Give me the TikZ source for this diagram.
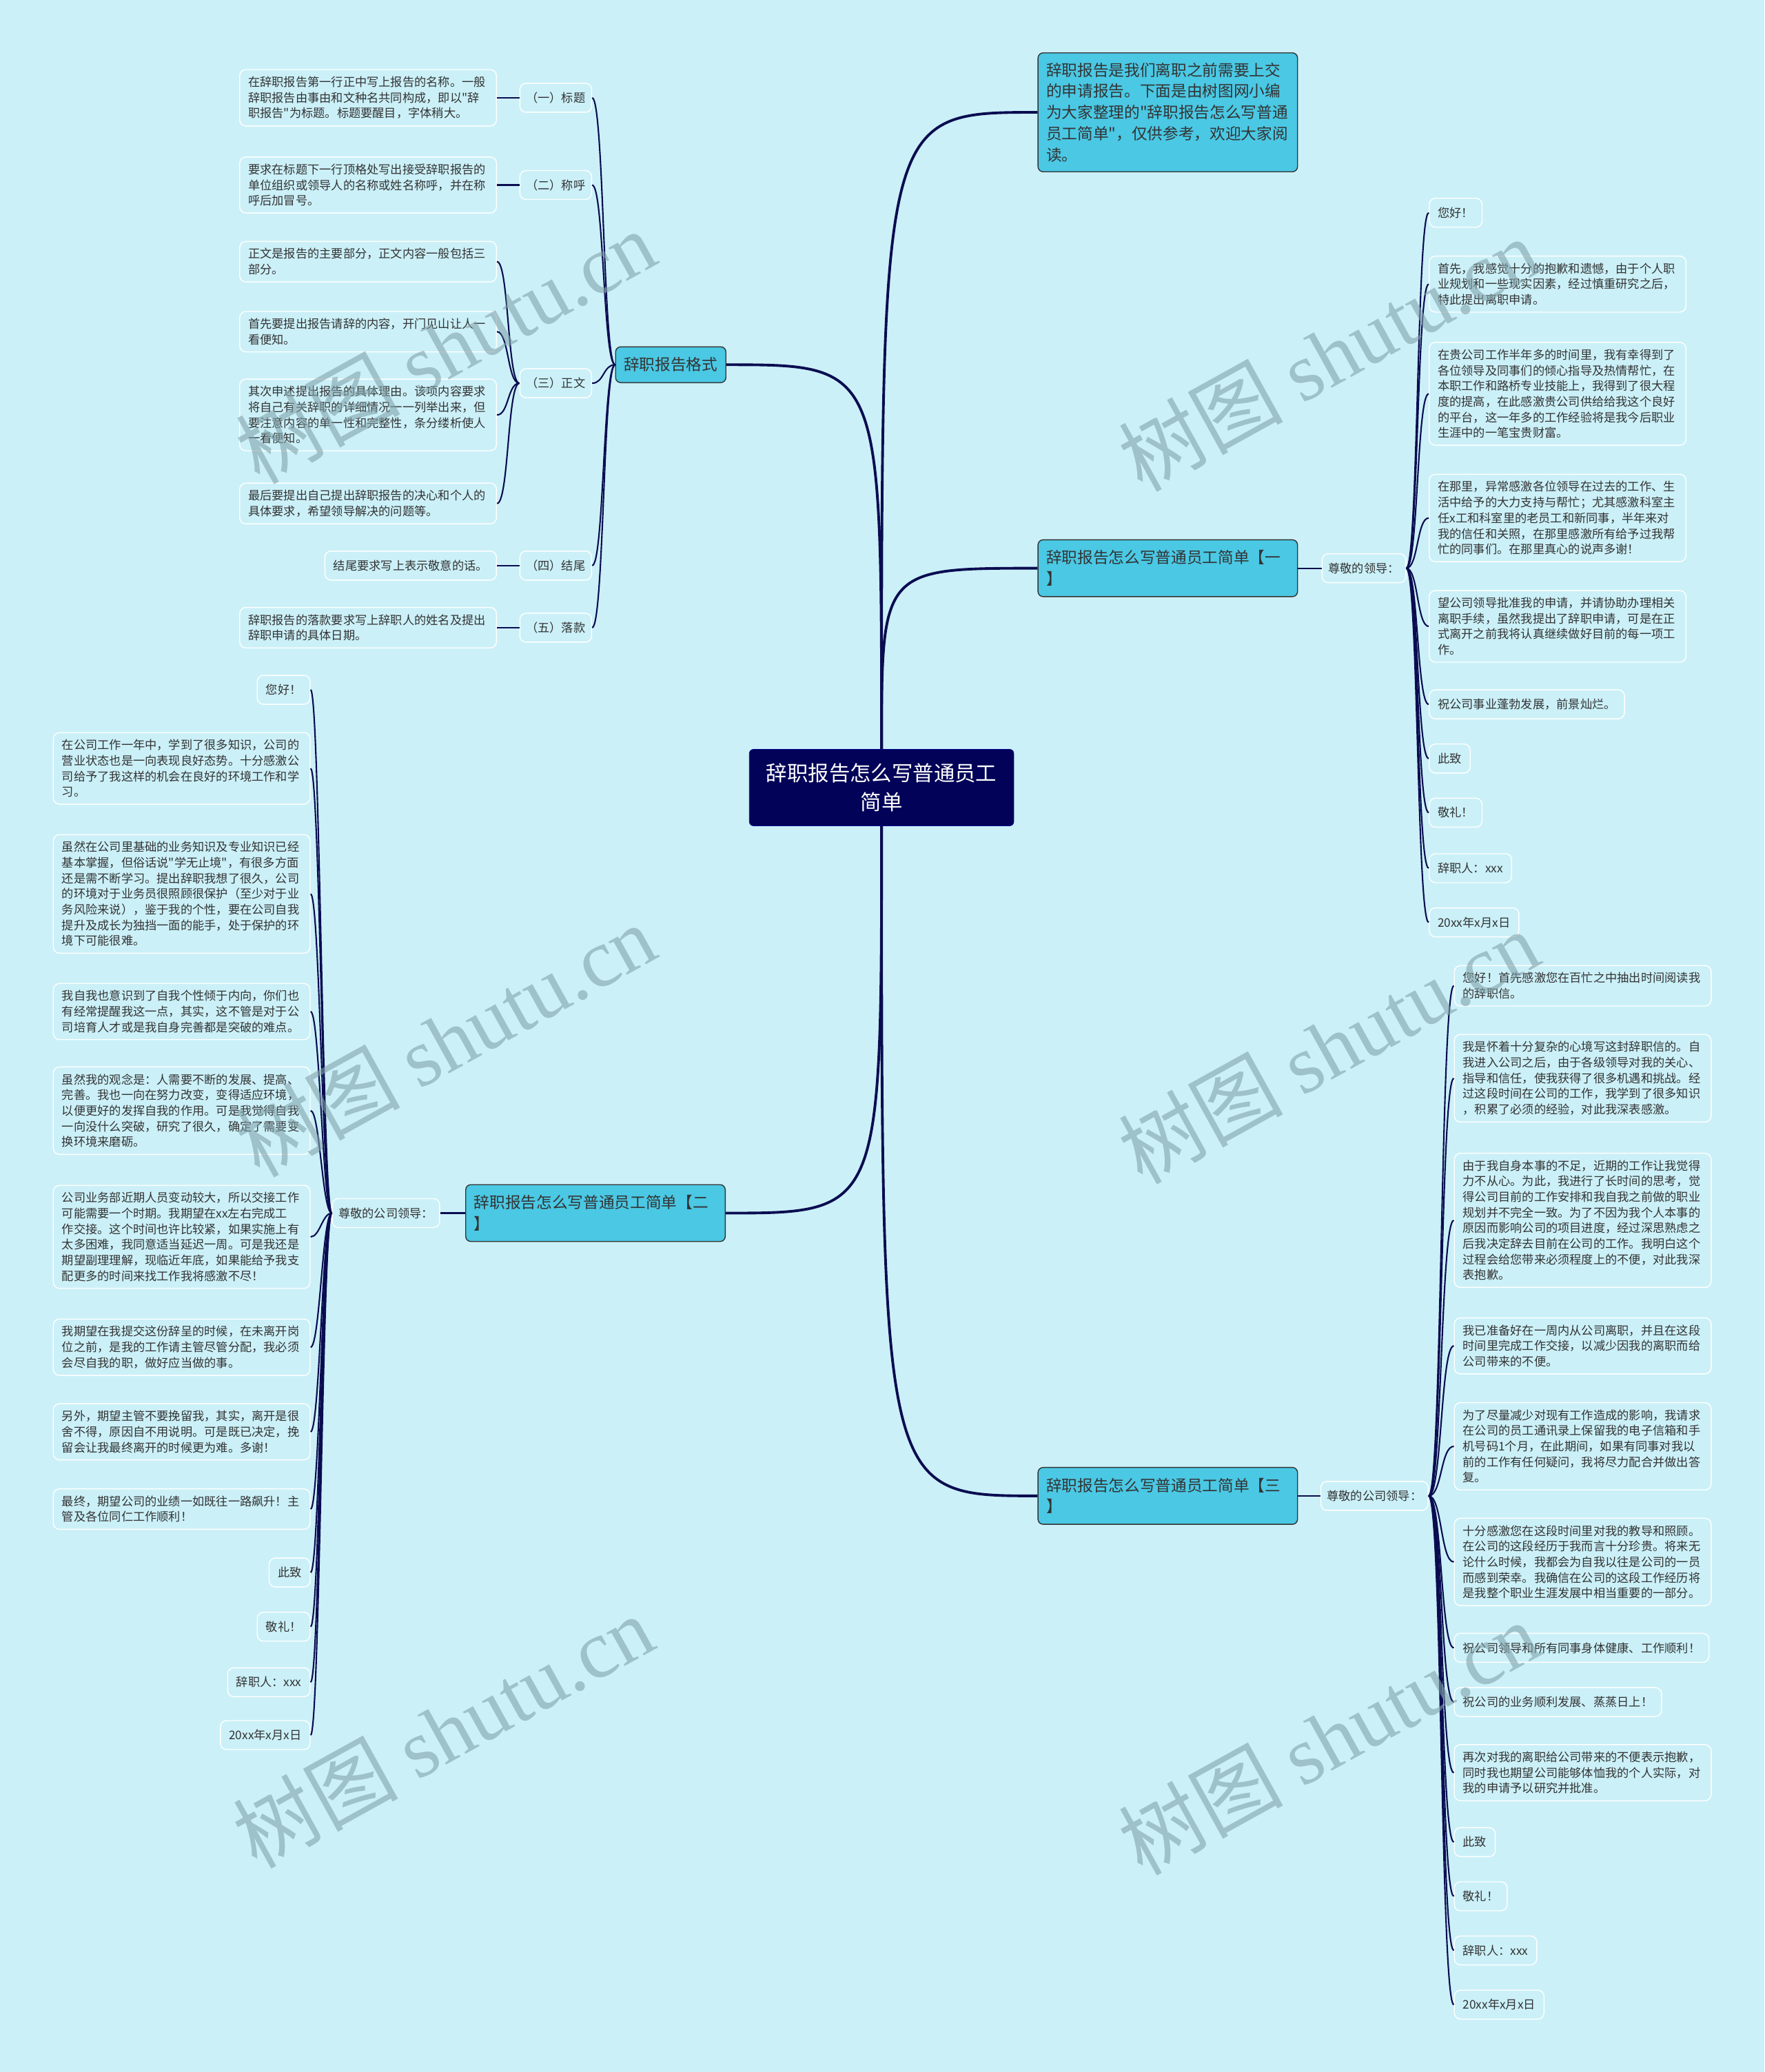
\documentclass[tikz,border=0pt]{standalone}
\usepackage{fontspec}
\setmainfont{Noto Sans CJK SC}[Ligatures=TeXOff]
\newfontfamily\wmfont{Liberation Serif}
\usetikzlibrary{positioning}
\definecolor{bgcol}{RGB}{203,240,248}
\definecolor{navy}{RGB}{2,2,88}
\definecolor{linecol}{RGB}{10,12,80}
\definecolor{cyanbox}{RGB}{74,200,228}
\definecolor{txtcol}{RGB}{51,51,51}
\definecolor{wmcol}{RGB}{130,162,170}

\begin{document}
\begin{tikzpicture}[
  x=0.03835cm, y=-0.03835cm,
  root/.style={rectangle, rounded corners=0.12cm, draw=blue!55!black, fill=navy, text=white, minimum width=7.67cm, minimum height=2.22cm, align=center, font=\fontsize{17.3pt}{24pt}\selectfont},
  branch/.style={rectangle, rounded corners=0.15cm, draw=black!80, line width=0.8pt, fill=cyanbox, text=black!80, text width=7.05cm, inner xsep=0.24cm, minimum height=1.65cm, align=left, font=\fontsize{12.9pt}{17.5pt}\selectfont},
  leaf/.style={rectangle, rounded corners=0.18cm, draw=white, line width=0.8pt, text=txtcol, inner xsep=0.25cm, inner ysep=0.2cm, minimum height=0.84cm, align=left, font=\fontsize{9.8pt}{12.9pt}\selectfont},
  leafpara/.style={leaf, text width=6.95cm},
  sublbl/.style={leaf, inner xsep=0.18cm},
  trunk/.style={draw=linecol, line width=2.2pt},
  twig/.style={draw=linecol, line width=1.2pt},
  wm/.style={text=wmcol, text opacity=0.6, rotate=29, font=\fontsize{68pt}{70pt}\selectfont}
  ]
  \fill[bgcol] (0,0) rectangle (1335,1568);
  \useasboundingbox (0,0) rectangle (1335,1568);

  % centre and main branches
  \node[root] (root) at (667,596) {辞职报告怎么写普通员工\\简单};
  \node[branch, anchor=west, minimum height=3.45cm] (intro) at (785,85) {辞职报告是我们离职之前需要上交\\的申请报告。下面是由树图网小编\\为大家整理的"辞职报告怎么写普通\\员工简单"，仅供参考，欢迎大家阅\\读。};
  \node[branch, text width=, minimum width=3.18cm, minimum height=1.04cm, align=center] (fmt) at (507.5,276) {辞职报告格式};
  \node[branch, anchor=west] (b1) at (785,430) {辞职报告怎么写普通员工简单【一\\】};
  \node[branch, anchor=west] (b2) at (352,918) {辞职报告怎么写普通员工简单【二\\】};
  \node[branch, anchor=west] (b3) at (785,1132) {辞职报告怎么写普通员工简单【三\\】};

  % format section
  \node[sublbl, anchor=east] (s1) at (448,74) {（一）标题};
  \node[sublbl, anchor=east] (s2) at (448,140) {（二）称呼};
  \node[sublbl, anchor=east] (s3) at (448,290) {（三）正文};
  \node[sublbl, anchor=east] (s4) at (448,428) {（四）结尾};
  \node[sublbl, anchor=east] (s5) at (448,475) {（五）落款};
  \node[leafpara, anchor=east] (f1) at (376,74) {在辞职报告第一行正中写上报告的名称。一般\\辞职报告由事由和文种名共同构成，即以"辞\\职报告"为标题。标题要醒目，字体稍大。};
  \node[leafpara, anchor=east] (f2) at (376,140) {要求在标题下一行顶格处写出接受辞职报告的\\单位组织或领导人的名称或姓名称呼，并在称\\呼后加冒号。};
  \node[leafpara, anchor=east] (f3) at (376,198) {正文是报告的主要部分，正文内容一般包括三\\部分。};
  \node[leafpara, anchor=east] (f4) at (376,251) {首先要提出报告请辞的内容，开门见山让人一\\看便知。};
  \node[leafpara, anchor=east] (f5) at (376,314) {其次申述提出报告的具体理由。该项内容要求\\将自己有关辞职的详细情况一一列举出来，但\\要注意内容的单一性和完整性，条分缕析使人\\一看便知。};
  \node[leafpara, anchor=east] (f6) at (376,381) {最后要提出自己提出辞职报告的决心和个人的\\具体要求，希望领导解决的问题等。};
  \node[leaf, anchor=east] (f7) at (376,428) {结尾要求写上表示敬意的话。};
  \node[leafpara, anchor=east] (f8) at (376,475) {辞职报告的落款要求写上辞职人的姓名及提出\\辞职申请的具体日期。};

  % branch one
  \node[sublbl, anchor=west] (g1) at (1000,430) {尊敬的领导：};
  \node[leaf, anchor=west] (a1) at (1081,161) {您好！};
  \node[leafpara, anchor=west] (a2) at (1081,215) {首先，我感觉十分的抱歉和遗憾，由于个人职\\业规划和一些现实因素，经过慎重研究之后，\\特此提出离职申请。};
  \node[leafpara, anchor=west] (a3) at (1081,298) {在贵公司工作半年多的时间里，我有幸得到了\\各位领导及同事们的倾心指导及热情帮忙，在\\本职工作和路桥专业技能上，我得到了很大程\\度的提高，在此感激贵公司供给给我这个良好\\的平台，这一年多的工作经验将是我今后职业\\生涯中的一笔宝贵财富。};
  \node[leafpara, anchor=west] (a4) at (1081,392) {在那里，异常感激各位领导在过去的工作、生\\活中给予的大力支持与帮忙；尤其感激科室主\\任x工和科室里的老员工和新同事，半年来对\\我的信任和关照，在那里感激所有给予过我帮\\忙的同事们。在那里真心的说声多谢！};
  \node[leafpara, anchor=west] (a5) at (1081,474) {望公司领导批准我的申请，并请协助办理相关\\离职手续，虽然我提出了辞职申请，可是在正\\式离开之前我将认真继续做好目前的每一项工\\作。};
  \node[leaf, anchor=west] (a6) at (1081,533) {祝公司事业蓬勃发展，前景灿烂。};
  \node[leaf, anchor=west] (a7) at (1081,574) {此致};
  \node[leaf, anchor=west] (a8) at (1081,615) {敬礼！};
  \node[leaf, anchor=west] (a9) at (1081,657) {辞职人：xxx};
  \node[leaf, anchor=west] (a10) at (1081,698) {20xx年x月x日};

  % branch two
  \node[sublbl, anchor=east] (g2) at (333,918) {尊敬的公司领导：};
  \node[leaf, anchor=east] (c1) at (235,522) {您好！};
  \node[leafpara, anchor=east] (c2) at (235,581.5) {在公司工作一年中，学到了很多知识，公司的\\营业状态也是一向表现良好态势。十分感激公\\司给予了我这样的机会在良好的环境工作和学\\习。};
  \node[leafpara, anchor=east] (c3) at (235,676.5) {虽然在公司里基础的业务知识及专业知识已经\\基本掌握，但俗话说"学无止境"，有很多方面\\还是需不断学习。提出辞职我想了很久，公司\\的环境对于业务员很照顾很保护（至少对于业\\务风险来说），鉴于我的个性，要在公司自我\\提升及成长为独挡一面的能手，处于保护的环\\境下可能很难。};
  \node[leafpara, anchor=east] (c4) at (235,765.5) {我自我也意识到了自我个性倾于内向，你们也\\有经常提醒我这一点，其实，这不管是对于公\\司培育人才或是我自身完善都是突破的难点。};
  \node[leafpara, anchor=east] (c5) at (235,840.5) {虽然我的观念是：人需要不断的发展、提高、\\完善。我也一向在努力改变，变得适应环境，\\以便更好的发挥自我的作用。可是我觉得自我\\一向没什么突破，研究了很久，确定了需要变\\换环境来磨砺。};
  \node[leafpara, anchor=east] (c6) at (235,936) {公司业务部近期人员变动较大，所以交接工作\\可能需要一个时期。我期望在xx左右完成工\\作交接。这个时间也许比较紧，如果实施上有\\太多困难，我同意适当延迟一周。可是我还是\\期望副理理解，现临近年底，如果能给予我支\\配更多的时间来找工作我将感激不尽！};
  \node[leafpara, anchor=east] (c7) at (235,1019.5) {我期望在我提交这份辞呈的时候，在未离开岗\\位之前，是我的工作请主管尽管分配，我必须\\会尽自我的职，做好应当做的事。};
  \node[leafpara, anchor=east] (c8) at (235,1083.5) {另外，期望主管不要挽留我，其实，离开是很\\舍不得，原因自不用说明。可是既已决定，挽\\留会让我最终离开的时候更为难。多谢！};
  \node[leafpara, anchor=east] (c9) at (235,1142) {最终，期望公司的业绩一如既往一路飙升！主\\管及各位同仁工作顺利！};
  \node[leaf, anchor=east] (c10) at (235,1190) {此致};
  \node[leaf, anchor=east] (c11) at (235,1231) {敬礼！};
  \node[leaf, anchor=east] (c12) at (235,1273) {辞职人：xxx};
  \node[leaf, anchor=east] (c13) at (235,1313) {20xx年x月x日};

  % branch three
  \node[sublbl, anchor=west] (g3) at (999,1132) {尊敬的公司领导：};
  \node[leafpara, anchor=west] (d1) at (1100,746) {您好！首先感激您在百忙之中抽出时间阅读我\\的辞职信。};
  \node[leafpara, anchor=west] (d2) at (1100,816) {我是怀着十分复杂的心境写这封辞职信的。自\\我进入公司之后，由于各级领导对我的关心、\\指导和信任，使我获得了很多机遇和挑战。经\\过这段时间在公司的工作，我学到了很多知识\\，积累了必须的经验，对此我深表感激。};
  \node[leafpara, anchor=west] (d3) at (1100,923.5) {由于我自身本事的不足，近期的工作让我觉得\\力不从心。为此，我进行了长时间的思考，觉\\得公司目前的工作安排和我自我之前做的职业\\规划并不完全一致。为了不因为我个人本事的\\原因而影响公司的项目进度，经过深思熟虑之\\后我决定辞去目前在公司的工作。我明白这个\\过程会给您带来必须程度上的不便，对此我深\\表抱歉。};
  \node[leafpara, anchor=west] (d4) at (1100,1018.5) {我已准备好在一周内从公司离职，并且在这段\\时间里完成工作交接，以减少因我的离职而给\\公司带来的不便。};
  \node[leafpara, anchor=west] (d5) at (1100,1094.5) {为了尽量减少对现有工作造成的影响，我请求\\在公司的员工通讯录上保留我的电子信箱和手\\机号码1个月，在此期间，如果有同事对我以\\前的工作有任何疑问，我将尽力配合并做出答\\复。};
  \node[leafpara, anchor=west] (d6) at (1100,1182) {十分感激您在这段时间里对我的教导和照顾。\\在公司的这段经历于我而言十分珍贵。将来无\\论什么时候，我都会为自我以往是公司的一员\\而感到荣幸。我确信在公司的这段工作经历将\\是我整个职业生涯发展中相当重要的一部分。};
  \node[leaf, anchor=west] (d7) at (1100,1247) {祝公司领导和所有同事身体健康、工作顺利！};
  \node[leaf, anchor=west] (d8) at (1100,1288) {祝公司的业务顺利发展、蒸蒸日上！};
  \node[leafpara, anchor=west] (d9) at (1100,1341.5) {再次对我的离职给公司带来的不便表示抱歉，\\同时我也期望公司能够体恤我的个人实际，对\\我的申请予以研究并批准。};
  \node[leaf, anchor=west] (d10) at (1100,1394) {此致};
  \node[leaf, anchor=west] (d11) at (1100,1435) {敬礼！};
  \node[leaf, anchor=west] (d12) at (1100,1476) {辞职人：xxx};
  \node[leaf, anchor=west] (d13) at (1100,1517) {20xx年x月x日};

  % connectors from the centre
  \draw[trunk] (root.north) .. controls (root.north |- fmt.east) .. (fmt.east);
  \draw[trunk] (root.north) .. controls (root.north |- intro.west) .. (intro.west);
  \draw[trunk] (root.north) .. controls (root.north |- b1.west) .. (b1.west);
  \draw[trunk] (root.south) .. controls (root.south |- b2.east) .. (b2.east);
  \draw[trunk] (root.south) .. controls (root.south |- b3.west) .. (b3.west);

  % format connectors
  \foreach \i in {1,...,5}
    \draw[twig] (fmt.west) .. controls +(-9,0) and +(9,0) .. (s\i.east);
  \draw[twig] (s1.west) -- (f1.east);
  \draw[twig] (s2.west) -- (f2.east);
  \foreach \i in {3,...,6}
    \draw[twig] (s3.west) .. controls +(-9,0) and +(9,0) .. (f\i.east);
  \draw[twig] (s4.west) -- (f7.east);
  \draw[twig] (s5.west) -- (f8.east);

  % letter connectors
  \draw[twig] (b1.east) -- (g1.west);
  \draw[twig] (b2.west) -- (g2.east);
  \draw[twig] (b3.east) -- (g3.west);
  \foreach \i in {1,...,10}
    \draw[twig] (g1.east) .. controls +(9,0) and +(-9,0) .. (a\i.west);
  \foreach \i in {1,...,13}
    \draw[twig] (g2.west) .. controls +(-7,0) and +(7,0) .. (c\i.east);
  \foreach \i in {1,...,13}
    \draw[twig] (g3.east) .. controls +(10,0) and +(-10,0) .. (d\i.west);

  % watermarks
  \foreach \wx/\wy [count=\k] in {337/262, 1005/268, 337/787, 1005/792, 335/1310, 1005/1315}
    \node[wm] (wm\k) at (\wx,\wy) {树图 {\wmfont shutu.cn}};
\end{tikzpicture}
\end{document}
